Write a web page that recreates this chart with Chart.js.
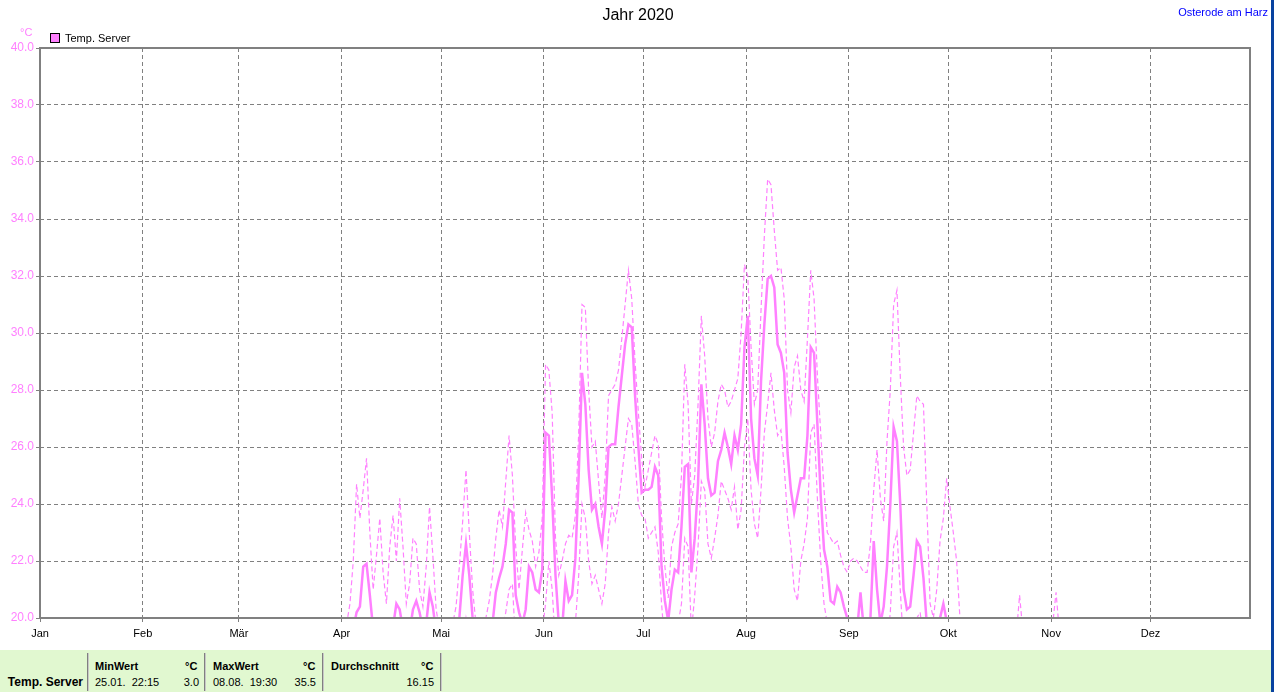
<!DOCTYPE html>
<html><head><meta charset="utf-8">
<script src="https://cdn.jsdelivr.net/npm/chart.js@4.4.0/dist/chart.umd.min.js"></script>
<style>
html,body{margin:0;padding:0;background:#fff;width:1274px;height:692px;overflow:hidden;font-family:"Liberation Sans",Arial,sans-serif;}
#c{position:absolute;left:0;top:0;}
.t{position:absolute;white-space:pre;font-size:11px;line-height:14px;color:#000;}
#title{position:absolute;left:0;top:6px;width:1276px;text-align:center;font-size:16px;line-height:18px;}
#loc{position:absolute;right:6px;top:5px;font-size:11px;line-height:14px;color:#0000ff;}
#legbox{position:absolute;left:50px;top:33px;width:8px;height:8px;border:1px solid #000;background:#ff80ff;}
#panel{position:absolute;left:0;top:650px;width:1271px;height:42px;background:#e1f8d0;}
.sep{position:absolute;top:3px;height:38px;width:1px;background:#808080;border-right:1px solid #c8c8c8;}
.b{font-weight:bold;}
#bar{position:absolute;left:1271px;top:0;width:3px;height:692px;background:#0842a0;}
</style></head><body>
<canvas id="c" width="1274" height="650"></canvas>
<div id="title">Jahr 2020</div>
<div id="loc">Osterode am Harz</div>
<div class="t" style="left:20px;top:25px;color:#ff80ff;">°C</div>
<div id="legbox"></div>
<div class="t" style="left:65px;top:31px;">Temp. Server</div>
<div id="panel">
  <div class="sep" style="left:87px"></div>
  <div class="sep" style="left:204px"></div>
  <div class="sep" style="left:322px"></div>
  <div class="sep" style="left:440px"></div>
  <div class="t b" style="right:1188px;top:25px;font-size:12px;">Temp. Server</div>
  <div class="t b" style="left:95px;top:9px;">MinWert</div>
  <div class="t b" style="left:185px;top:9px;">°C</div>
  <div class="t" style="left:95px;top:25px;">25.01.  22:15</div>
  <div class="t" style="right:1072px;top:25px;">3.0</div>
  <div class="t b" style="left:213px;top:9px;">MaxWert</div>
  <div class="t b" style="left:303px;top:9px;">°C</div>
  <div class="t" style="left:213px;top:25px;">08.08.  19:30</div>
  <div class="t" style="right:955px;top:25px;">35.5</div>
  <div class="t b" style="left:331px;top:9px;">Durchschnitt</div>
  <div class="t b" style="left:421px;top:9px;">°C</div>
  <div class="t" style="right:837px;top:25px;">16.15</div>
</div>
<div id="bar"></div>
<script>
// x axis: day of year 2020 (0 = 1 Jan), month starts and names
const monthNames = ['Jan','Feb','Mär','Apr','Mai','Jun','Jul','Aug','Sep','Okt','Nov','Dez'];
const monthStarts = [0,31,60,91,121,152,182,213,244,274,305,335];
const yTicks = [20,22,24,26,28,30,32,34,36,38,40];
// daily values starting at 1 Apr 2020 (day index 91)
const firstDay = 91;
const tAvg = [
 18.5,18.8,19.2,19.6,20.2,20.4,21.8,21.9,20.8,19.6, 19.2,19.5,19.3,19.0,19.4,19.7,20.5,20.3,19.6,19.2, 19.5,20.3,20.6,20.2,19.6,19.8,20.9,20.4,19.5,19.0,
 18.6,18.4,18.8,19.2,19.6,20.0,21.5,22.6,21.5,20.0, 19.2,18.8,18.9,19.1,19.4,19.8,20.9,21.4,21.8,22.6, 23.8,23.7,20.8,20.2,19.8,20.3,21.8,21.6,21.0,20.9, 21.7,
 26.5,26.4,24.2,21.5,19.8,19.6,21.3,20.6,20.8,22.1, 25.0,28.6,27.5,25.2,23.8,24.0,23.2,22.6,23.8,26.0, 26.1,26.1,27.4,28.5,29.6,30.3,30.2,27.8,26.0,24.4,
 24.5,24.5,24.6,25.3,25.0,21.8,20.6,19.9,21.0,21.7, 21.6,23.2,25.3,25.4,21.6,22.8,24.7,28.2,26.8,24.9, 24.3,24.4,25.5,25.9,26.5,26.0,25.4,26.4,25.9,26.8, 29.5,
 30.6,27.0,25.6,25.0,28.3,30.3,31.9,32.0,31.6,29.6, 29.3,28.6,25.8,24.5,23.7,24.3,24.9,24.9,26.4,29.5, 29.3,26.8,24.3,22.4,21.8,20.6,20.5,21.1,20.9,20.4, 20.0,
 19.4,19.0,19.6,20.9,19.6,19.0,20.0,22.7,21.0,19.8, 20.4,21.8,24.0,26.7,26.2,24.0,21.0,20.3,20.4,21.5, 22.7,22.5,21.4,19.8,19.2,19.4,19.6,20.0,20.5,19.9,
 19.6,19.3,19.0,18.6,18.3,18.0,17.8,17.6,17.5,17.4, 17.3,17.2,17.1,17.0,17.0,16.9,16.8,16.8,16.7,16.8, 17.2,17.8,17.1,16.8,16.6,16.5,16.4,16.3,16.3,16.2, 16.4,
 17.0,17.6,16.8,16.4,16.2,16.0
];
const tMax = [
 19.5,19.8,20.5,22.0,24.7,23.5,24.5,25.6,23.0,21.0, 22.2,23.5,21.6,20.5,22.5,23.6,22.0,24.2,22.5,20.5, 21.2,22.8,22.6,21.0,20.4,21.8,23.9,22.2,20.3,19.6,
 19.2,19.0,19.4,19.8,20.4,21.8,23.4,25.2,23.0,21.0, 19.8,19.5,19.7,20.0,20.6,21.5,22.8,23.8,23.2,24.8, 26.4,25.0,22.5,21.0,22.4,23.7,23.1,22.7,21.8,22.3, 23.5,
 28.9,28.7,27.2,22.8,21.5,22.0,22.6,22.9,22.8,23.6, 26.5,31.0,30.9,28.0,26.0,26.2,24.8,23.5,25.0,27.8, 28.0,28.2,28.7,29.8,31.0,32.2,31.2,29.0,27.2,25.6,
 24.6,25.2,25.8,26.4,26.1,23.5,21.8,20.7,22.5,23.0, 23.3,25.0,28.9,27.5,24.0,25.0,27.5,30.6,29.2,27.0, 26.0,26.5,27.6,28.2,28.0,27.4,27.6,28.0,28.4,30.0, 32.4,
 32.0,29.5,27.5,28.0,30.8,33.4,35.4,35.2,33.6,32.2, 32.3,31.2,28.0,27.2,28.8,29.2,28.0,27.6,29.8,32.2, 31.2,28.5,26.5,24.5,23.0,22.8,22.6,22.7,22.2,21.8, 21.6,
 22.0,22.1,22.0,21.8,21.6,21.6,22.6,24.5,25.9,24.2, 23.4,26.2,28.0,31.0,31.5,28.5,26.0,25.0,25.2,26.5, 27.8,27.6,27.5,24.0,20.5,20.0,21.0,22.7,23.5,24.9,
 23.9,23.0,22.0,20.0,19.4,19.0,18.8,18.6,18.5,18.4, 18.3,18.4,18.3,18.2,18.2,18.1,18.0,18.0,18.1,18.2, 19.4,20.8,19.5,18.4,18.2,18.0,17.9,17.8,17.8,17.8, 18.0,
 19.8,20.9,19.5,18.4,18.0,17.8
];
const tMin = [
 17.0,17.2,17.5,17.8,18.3,18.6,19.5,19.6,18.8,17.8, 17.5,17.6,17.4,17.2,17.5,17.8,18.4,18.2,17.6,17.3, 17.5,18.0,18.3,18.0,17.5,17.7,18.5,18.2,17.5,17.1,
 16.8,16.6,16.9,17.2,17.6,18.0,19.2,20.0,19.3,18.0, 17.3,17.0,17.1,17.3,17.6,18.0,18.8,19.2,19.6,20.2, 21.0,21.2,19.0,18.3,17.9,18.2,19.5,19.5,19.0,18.8, 19.5,
 20.5,22.0,21.0,19.0,18.2,18.0,18.8,18.5,19.0,19.8, 21.5,24.0,23.5,22.0,21.2,21.5,21.0,20.5,21.2,23.0, 23.9,23.4,24.0,25.0,26.0,27.0,26.8,25.5,24.0,23.6,
 23.5,22.8,23.0,23.2,22.3,20.5,19.0,18.5,19.2,19.5, 19.8,20.5,22.8,22.5,19.5,20.8,22.5,24.8,24.5,22.6, 22.1,22.8,23.6,24.8,24.5,24.2,23.8,24.6,23.1,23.8, 26.0,
 27.0,24.5,23.3,22.8,24.5,26.5,27.5,28.6,27.3,26.4, 26.6,25.3,23.5,22.5,21.0,20.6,22.0,22.6,23.5,26.5, 26.8,24.2,22.0,20.5,19.8,19.0,18.6,19.0,19.2,18.8, 18.5,
 18.0,17.8,18.4,19.0,18.0,17.5,17.8,19.0,19.6,18.8, 18.0,19.0,20.2,22.5,23.0,21.0,19.0,18.2,18.0,18.8, 20.0,20.2,19.2,18.0,17.5,17.6,17.8,18.2,18.8,18.0,
 17.6,17.3,17.0,16.7,16.5,16.3,16.1,16.0,15.9,15.8, 15.7,15.6,15.5,15.4,15.4,15.3,15.2,15.2,15.1,15.2, 15.5,16.0,15.6,15.3,15.1,15.0,14.9,14.8,14.8,14.7, 14.9,
 15.4,16.0,15.3,15.0,14.8,14.6
];

const PINK = '#ff80ff', GRAY = '#808080';
const pts = arr => arr.map((v, i) => ({x: firstDay + i + 0.5, y: v}));

Chart.defaults.font.family = '"Liberation Sans", Arial, sans-serif';
Chart.defaults.font.size = 11;
Chart.defaults.color = '#000';

const frame = {
  id: 'frame',
  afterDatasetsDraw(chart) {
    const a = chart.chartArea, ctx = chart.ctx;
    ctx.save();
    ctx.strokeStyle = GRAY; ctx.lineWidth = 2;
    ctx.strokeRect(a.left, a.top, a.right - a.left, a.bottom - a.top);
    ctx.restore();
  }
};

new Chart(document.getElementById('c'), {
  type: 'line',
  data: {
    datasets: [
      {label: 'Temp. Server', data: pts(tAvg), borderColor: PINK, borderWidth: 2.5, pointRadius: 0, tension: 0, clip: 0},
      {label: 'Max', data: pts(tMax), borderColor: PINK, borderWidth: 1.2, borderDash: [5, 3], pointRadius: 0, tension: 0, clip: 0},
      {label: 'Min', data: pts(tMin), borderColor: PINK, borderWidth: 1.2, borderDash: [5, 3], pointRadius: 0, tension: 0, clip: 0}
    ]
  },
  options: {
    responsive: false, animation: false, devicePixelRatio: 1,
    layout: {padding: {top: 48, right: 24, left: 0, bottom: 0}},
    plugins: {legend: {display: false}, title: {display: false}, tooltip: {enabled: false}},
    scales: {
      x: {
        type: 'linear', min: 0, max: 365,
        afterBuildTicks: s => { s.ticks = monthStarts.map(v => ({value: v})); },
        afterFit: s => { s.height = 32; },
        ticks: {autoSkip: false, maxRotation: 0, padding: 5, color: '#000',
          callback: v => monthNames[monthStarts.indexOf(v)]},
        grid: {color: GRAY, lineWidth: 1, tickLength: 4, drawTicks: true, tickBorderDash: []},
        border: {display: false, dash: [4, 3]}
      },
      y: {
        min: 20, max: 40,
        afterBuildTicks: s => { s.ticks = yTicks.map(v => ({value: v})); },
        afterFit: s => { s.width = 40; },
        ticks: {padding: 2, color: PINK, font: {size: 12}, callback: v => Number(v).toFixed(1)},
        grid: {color: GRAY, lineWidth: 1, tickLength: 4, drawTicks: true, tickBorderDash: []},
        border: {display: false, dash: [4, 3]}
      }
    }
  },
  plugins: [frame]
});
</script>
</body></html>
